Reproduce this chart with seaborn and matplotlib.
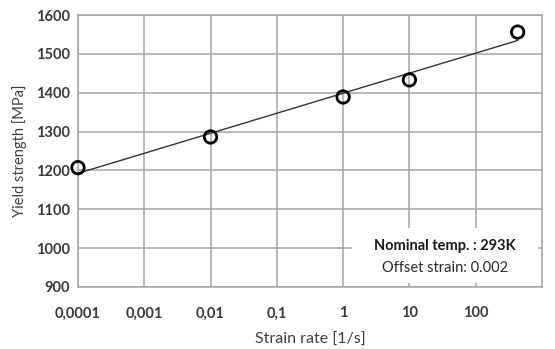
import numpy as np
import pandas as pd
import matplotlib
matplotlib.use("Agg")
import matplotlib.pyplot as plt
from matplotlib.patches import Rectangle
import seaborn as sns

# strain rate [1/s] and yield strength [MPa]
strain_rate = [0.0001, 0.01, 1, 10, 430]
yield_strength = [1207, 1286, 1389, 1433, 1556]

x_ticks = [0.0001, 0.001, 0.01, 0.1, 1, 10, 100]
x_tick_labels = ["0,0001", "0,001", "0,01", "0,1", "1", "10", "100"]
y_ticks = [900, 1000, 1100, 1200, 1300, 1400, 1500, 1600]

df = pd.DataFrame({"rate": strain_rate, "ys": yield_strength})

# logarithmic trend line (like the spreadsheet fit)
coef = np.polyfit(np.log10(df["rate"]), df["ys"], 1)
trend = pd.DataFrame({"rate": [min(strain_rate), max(strain_rate)]})
trend["ys"] = np.polyval(coef, np.log10(trend["rate"]))

sns.set_style("white")
plt.rcParams["font.family"] = ["Lato", "DejaVu Sans"]

fig = plt.figure(figsize=(5.55, 3.49), dpi=100)
ax = fig.add_axes([0.1405, 0.178, 0.836, 0.779])

grid_c = "#a6a6a6"
ax.set_xscale("log")
ax.set_xlim(1e-4, 1e3)
ax.set_ylim(900, 1600)
ax.grid(True, color=grid_c, lw=1.1)
ax.set_axisbelow(True)
for s in ax.spines.values():
    s.set_color(grid_c)
    s.set_linewidth(1.1)

sns.lineplot(data=trend, x="rate", y="ys", ax=ax, color="#333333", lw=1.0, zorder=3)
sns.scatterplot(data=df, x="rate", y="ys", ax=ax, marker="o", s=80,
                facecolor="none", edgecolor="black", linewidth=2.0, zorder=4, clip_on=False)

ax.set_xticks(x_ticks)
ax.set_xticklabels(x_tick_labels)
ax.minorticks_off()
ax.set_yticks(y_ticks)
ax.tick_params(axis="both", colors=grid_c, length=4, width=1.1, labelcolor="#3a3a3a",
               labelsize=10.5)
ax.tick_params(axis="x", pad=10)
ax.tick_params(axis="y", pad=2)
for lab in ax.get_xticklabels() + ax.get_yticklabels():
    lab.set_fontweight("bold")

ax.set_xlabel("Strain rate [1/s]", fontsize=11.5, color="#404040", labelpad=9)
ax.set_ylabel("Yield strength [MPa]", fontsize=10.5, color="#404040", labelpad=6)

# white annotation box hiding the grid
ax.add_patch(Rectangle((0.59, 0.015), 0.401, 0.202, transform=ax.transAxes,
                       facecolor="white", edgecolor="none", zorder=2.5))
ax.text(0.791, 0.151, "Nominal temp. : 293K", transform=ax.transAxes,
        ha="center", va="center", fontsize=10.5, fontweight="bold", color="#1a1a1a", zorder=5)
ax.text(0.791, 0.070, "Offset strain: 0.002", transform=ax.transAxes,
        ha="center", va="center", fontsize=10.5, color="#2a2a2a", zorder=5)

fig.savefig("out.png", dpi=100)
